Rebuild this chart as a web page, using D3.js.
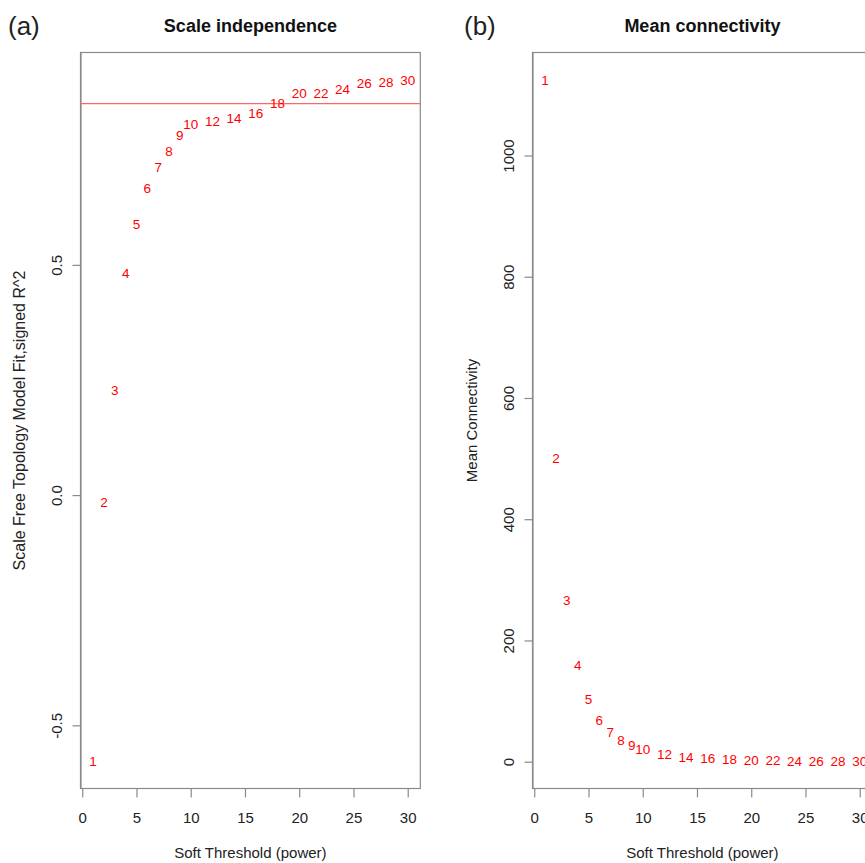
<!DOCTYPE html>
<html>
<head>
<meta charset="utf-8">
<script src="https://cdn.jsdelivr.net/npm/d3@7"></script>
<style>
  body { margin: 0; background: #fff; }
  svg { font-family: "Liberation Sans", Arial, sans-serif; }
</style>
</head>
<body>
<div id="chart"></div>
<script>
var powers = [1, 2, 3, 4, 5, 6, 7, 8, 9, 10, 12, 14, 16, 18, 20, 22, 24, 26, 28, 30];
var signedR2 = [-0.578, -0.016, 0.228, 0.482, 0.589, 0.667, 0.712, 0.748, 0.781, 0.805,
  0.812, 0.818, 0.830, 0.852, 0.873, 0.872, 0.881, 0.894, 0.896, 0.902];
var meanK = [1125, 500, 266, 159, 103, 69, 49, 36, 27, 21,
  13, 8, 5.4, 3.8, 2.7, 2, 1.5, 1.1, 0.9, 0.7];
var xTicks = [0, 5, 10, 15, 20, 25, 30];
var r2Ticks = [-0.5, 0.0, 0.5];
var kTicks = [0, 200, 400, 600, 800, 1000];
var cutoff = 0.85;

var width = 865, height = 863;
var svg = d3.select('#chart').append('svg')
  .attr('width', width)
  .attr('height', height);

// R style 4% padding on data range
function padded(vals) {
  var ext = d3.extent(vals), d = (ext[1] - ext[0]) * 0.04;
  return [ext[0] - d, ext[1] + d];
}

// plain hyphen minus like R, not the unicode minus d3 uses
var hyphen = d3.formatLocale({decimal: '.', thousands: ',', grouping: [3], currency: ['', ''], minus: '-'});

function panel(opts) {
  var x = d3.scaleLinear().domain(padded(powers)).range([opts.left, opts.right]);
  var y = d3.scaleLinear().domain(padded(opts.values)).range([opts.bottom, opts.top]);
  var g = svg.append('g');

  g.append('rect')
    .attr('x', opts.left).attr('y', opts.top)
    .attr('width', opts.right - opts.left)
    .attr('height', opts.bottom - opts.top)
    .attr('fill', 'none')
    .attr('stroke', '#8a8a8a')
    .attr('stroke-width', 1.2);

  // x axis
  var xa = g.append('g')
    .attr('transform', 'translate(0,' + opts.bottom + ')')
    .call(d3.axisBottom(x).tickValues(xTicks).tickSize(9).tickPadding(15).tickSizeOuter(0));
  xa.select('.domain').attr('stroke', '#8a8a8a').attr('stroke-width', 1.2)
    .attr('d', 'M' + x(xTicks[0]) + ',0H' + x(xTicks[xTicks.length - 1]));
  xa.selectAll('.tick line').attr('stroke', '#8a8a8a').attr('stroke-width', 1.2);
  xa.selectAll('.tick text').attr('font-size', 15).attr('fill', '#222')
    .attr('font-family', '"Liberation Sans", Arial, sans-serif');

  // y axis
  var ya = g.append('g')
    .attr('transform', 'translate(' + opts.left + ',0)')
    .call(d3.axisLeft(y).tickValues(opts.ticks).tickFormat(opts.fmt).tickSize(8).tickSizeOuter(0));
  ya.select('.domain').attr('stroke', '#8a8a8a').attr('stroke-width', 1.2);
  ya.selectAll('.tick line').attr('stroke', '#8a8a8a').attr('stroke-width', 1.2);
  ya.selectAll('.tick text')
    .attr('font-size', 15).attr('fill', '#222')
    .attr('font-family', '"Liberation Sans", Arial, sans-serif')
    .attr('text-anchor', 'middle')
    .attr('x', 0).attr('dy', 0)
    .attr('transform', 'translate(-19,0) rotate(-90)');

  if (opts.hline != null) {
    g.append('line')
      .attr('x1', opts.left).attr('x2', opts.right)
      .attr('y1', y(opts.hline)).attr('y2', y(opts.hline))
      .attr('stroke', '#ff6666').attr('stroke-width', 1.2);
  }

  g.selectAll('text.pt')
    .data(powers).enter()
    .append('text')
    .attr('class', 'pt')
    .attr('x', function(d) { return x(d); })
    .attr('y', function(d, i) { return y(opts.values[i]); })
    .attr('dy', '0.36em')
    .attr('text-anchor', 'middle')
    .attr('font-size', 13.5)
    .attr('fill', '#ff0000')
    .text(function(d) { return d; });

  var cx = (opts.left + opts.right) / 2;
  g.append('text')
    .attr('x', cx).attr('y', 32)
    .attr('text-anchor', 'middle')
    .attr('font-size', 18).attr('font-weight', 'bold').attr('fill', '#111')
    .text(opts.title);

  g.append('text')
    .attr('x', cx).attr('y', 858)
    .attr('text-anchor', 'middle')
    .attr('font-size', 15).attr('fill', '#222')
    .text('Soft Threshold (power)');

  g.append('text')
    .attr('transform', 'translate(' + opts.ylabX + ',' + ((opts.top + opts.bottom) / 2) + ') rotate(-90)')
    .attr('text-anchor', 'middle')
    .attr('font-size', opts.ylabSize).attr('fill', '#222')
    .text(opts.ylab);

  g.append('text')
    .attr('x', opts.tagX).attr('y', 35)
    .attr('font-size', 26).attr('fill', '#222')
    .text(opts.tag);
}

panel({
  left: 80.5, right: 420.3, top: 52.5, bottom: 788.5,
  values: signedR2, ticks: r2Ticks, fmt: hyphen.format('.1f'),
  hline: cutoff,
  title: 'Scale independence', ylab: 'Scale Free Topology Model Fit,signed R^2',
  ylabX: 25, ylabSize: 16, tag: '(a)', tagX: 8
});

panel({
  left: 532.5, right: 872.3, top: 52.5, bottom: 788.5,
  values: meanK, ticks: kTicks, fmt: hyphen.format('d'),
  hline: null,
  title: 'Mean connectivity', ylab: 'Mean Connectivity',
  ylabX: 477, ylabSize: 15, tag: '(b)', tagX: 464
});
</script>
</body>
</html>
